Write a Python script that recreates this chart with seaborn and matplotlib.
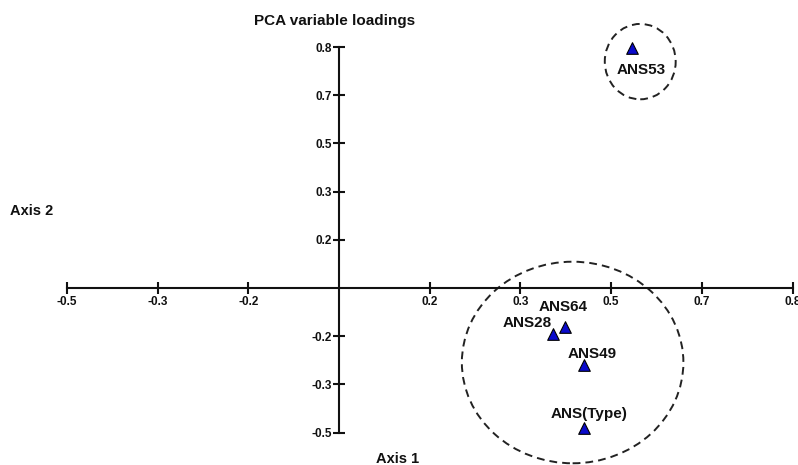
import matplotlib
matplotlib.use("Agg")
import matplotlib.pyplot as plt
from matplotlib.patches import Ellipse
import pandas as pd
import seaborn as sns

# PCA variable loadings (axis 1, axis 2)
variables = ["ANS53", "ANS64", "ANS28", "ANS49", "ANS(Type)"]
axis1 = [0.533, 0.412, 0.389, 0.446, 0.446]
axis2 = [0.822, -0.132, -0.157, -0.263, -0.478]

# ticks are evenly spaced, the labels are rounded as in the original figure
tick_step = 0.165
x_steps = [-3, -2, -1, 1, 2, 3, 4, 5]
x_tick_labels = ["-0.5", "-0.3", "-0.2", "0.2", "0.3", "0.5", "0.7", "0.8"]
y_steps = [-3, -2, -1, 1, 2, 3, 4, 5]
y_tick_labels = ["-0.5", "-0.3", "-0.2", "0.2", "0.3", "0.5", "0.7", "0.8"]

# label offsets (points) and alignment for each variable
label_offsets = [(6.5, -16), (-1.5, 14), (-1, 8), (6, 8), (3.5, 9.5)]
label_ha = ["center", "center", "right", "center", "center"]

# dashed group ellipses: centre x, centre y, width, height
groups = [(0.548, 0.775, 0.129, 0.258), (0.425, -0.255, 0.403, 0.690)]

sns.set_style("white")
plt.rcParams["font.family"] = ["Liberation Sans", "DejaVu Sans"]
plt.rcParams["font.weight"] = "bold"

df = pd.DataFrame({"Variable": variables, "Axis 1": axis1, "Axis 2": axis2})

fig = plt.figure(figsize=(7.98, 4.65), dpi=100)
ax = fig.add_axes([0, 0, 1, 1])

sns.scatterplot(data=df, x="Axis 1", y="Axis 2", marker="^", s=70,
                color="#0a0acc", edgecolor="#000000", linewidth=0.8,
                ax=ax, zorder=3)

for name, x, y, off, ha in zip(variables, axis1, axis2, label_offsets, label_ha):
    ax.annotate(name, (x, y), xytext=off, textcoords="offset points",
                ha=ha, va="center", fontsize=11, fontweight="bold",
                color="#111111", zorder=4)

for cx, cy, w, h in groups:
    ax.add_patch(Ellipse((cx, cy), w, h, fill=False, edgecolor="#222222",
                         linewidth=1.4, linestyle=(0, (4, 2.6))))

# axes crossing at the origin
ax.set_xlim(-0.6167, 0.835)
ax.set_ylim(-0.6059, 0.9859)
for side in ["top", "right"]:
    ax.spines[side].set_visible(False)
ax.spines["left"].set_position("zero")
ax.spines["bottom"].set_position("zero")
ax.spines["left"].set_bounds(y_steps[0] * tick_step, y_steps[-1] * tick_step)
ax.spines["bottom"].set_bounds(x_steps[0] * tick_step, x_steps[-1] * tick_step)
for side in ["left", "bottom"]:
    ax.spines[side].set_linewidth(1.5)
    ax.spines[side].set_color("#111111")

ax.set_xticks([k * tick_step for k in x_steps])
ax.set_xticklabels(x_tick_labels)
ax.set_yticks([k * tick_step for k in y_steps])
ax.set_yticklabels(y_tick_labels)
ax.tick_params(axis="both", direction="inout", length=8.5, width=1.5,
               color="#111111", labelsize=8.5, labelcolor="#111111",
               bottom=True, left=True)
ax.tick_params(axis="x", pad=1.5)
ax.tick_params(axis="y", pad=1)
for lbl in ax.get_xticklabels() + ax.get_yticklabels():
    lbl.set_fontweight("bold")

ax.set_xlabel("")
ax.set_ylabel("")

fig.text(335 / 798, 1 - 21 / 465, "PCA variable loadings", ha="center",
         va="center", fontsize=11, fontweight="bold", color="#111111")
fig.text(10 / 798, 1 - 211 / 465, "Axis 2", ha="left", va="center",
         fontsize=10.5, fontweight="bold", color="#111111")
fig.text(398 / 798, 1 - 459 / 465, "Axis 1", ha="center", va="center",
         fontsize=10.5, fontweight="bold", color="#111111")

fig.savefig("out.png", dpi=100)
